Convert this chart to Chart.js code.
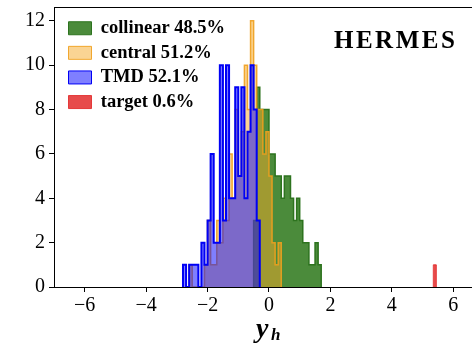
<!DOCTYPE html>
<html>
<head>
<meta charset="utf-8">
<script src="https://cdn.jsdelivr.net/npm/chart.js@4.4.1/dist/chart.umd.min.js"></script>
<style>
  html, body { margin: 0; padding: 0; background: #fff; }
  #chart { display: block; }
</style>
</head>
<body>
<canvas id="chart" width="472" height="347"></canvas>
<script>
// histogram bins, width 0.1, counts
const binWidth = 0.1;

const collinearStart = -0.5;
const collinearCounts = [3, 9, 8, 8, 8, 6, 6, 5, 5, 4, 5, 5, 4, 3, 4, 3, 2, 2, 1, 1, 2, 1];

const centralStart = -2.6;
const centralCounts = [1, 0, 0, 0, 0, 1, 3, 1, 1, 3, 2, 4, 3, 6, 4, 8, 5, 7, 10, 8, 12, 10, 8, 8, 6, 7, 5, 2, 1, 2];

const tmdStart = -2.8;
const tmdCounts = [1, 0, 1, 1, 1, 0, 2, 1, 3, 6, 2, 2, 10, 3, 10, 4, 4, 9, 5, 9, 4, 7, 10, 8, 3];

const targetStart = 5.35;
const targetCounts = [1];

const seriesLabels = ['collinear 48.5%', 'central 51.2%', 'TMD 52.1%', 'target 0.6%'];
const xTicks = [-6, -4, -2, 0, 2, 4, 6];
const yTicks = [0, 2, 4, 6, 8, 10, 12];

const serif = '"Liberation Serif", "DejaVu Serif", serif';

// turn bin counts into step points (left edges + closing edge)
function histPoints(start, counts) {
    const pts = [{ x: start, y: 0 }];
    counts.forEach((c, i) => {
        pts.push({ x: Math.round((start + i * binWidth) * 1000) / 1000, y: c });
    });
    pts.push({ x: Math.round((start + counts.length * binWidth) * 1000) / 1000, y: 0 });
    return pts;
}

function histSet(label, start, counts, fillColor, lineColor, lineWidth, order) {
    return {
        label: label,
        data: histPoints(start, counts),
        stepped: 'before',
        fill: 'origin',
        backgroundColor: fillColor,
        borderColor: lineColor,
        borderWidth: lineWidth,
        pointRadius: 0,
        order: order
    };
}

const frameAndText = {
    id: 'frameAndText',
    afterLayout(chart) {
        // vertical legends get top = 0, so place the block by hand
        chart.legend.left = chart.chartArea.left + 8.4;
        chart.legend.top = 12.9;
    },
    afterDraw(chart) {
        const ctx = chart.ctx;
        const a = chart.chartArea;
        ctx.save();
        ctx.strokeStyle = '#000';
        ctx.lineWidth = 1;
        ctx.beginPath();
        ctx.moveTo(a.left, a.top + 0.5);
        ctx.lineTo(a.right, a.top + 0.5);
        ctx.stroke();

        ctx.fillStyle = '#000';
        ctx.textBaseline = 'alphabetic';
        ctx.textAlign = 'left';
        ctx.font = 'bold 25px ' + serif;
        ctx.letterSpacing = '2.5px';
        ctx.fillText('HERMES', 334, 48);
        ctx.letterSpacing = '0px';

        ctx.font = 'italic bold 28px ' + serif;
        ctx.fillText('y', 256, 337);
        ctx.font = 'italic bold 17px ' + serif;
        ctx.fillText('h', 271, 340);
        ctx.restore();
    }
};

const ctx = document.getElementById('chart').getContext('2d');

new Chart(ctx, {
    type: 'line',
    data: {
        datasets: [
            histSet(seriesLabels[0], collinearStart, collinearCounts, 'rgba(30,110,10,0.8)', 'rgb(45,115,30)', 1.5, 3),
            histSet(seriesLabels[1], centralStart, centralCounts, 'rgba(245,170,40,0.5)', 'rgba(240,160,30,0.9)', 1.5, 2),
            histSet(seriesLabels[2], tmdStart, tmdCounts, 'rgba(0,0,255,0.5)', 'rgb(0,0,245)', 2, 1),
            histSet(seriesLabels[3], targetStart, targetCounts, 'rgba(225,30,30,0.8)', 'rgba(225,30,30,0.8)', 1, 0)
        ]
    },
    options: {
        responsive: false,
        animation: false,
        layout: { padding: { top: 7, right: 0, bottom: 0, left: 0 } },
        scales: {
            x: {
                type: 'linear',
                min: -7,
                max: 6.61,
                afterBuildTicks: scale => { scale.ticks = xTicks.map(v => ({ value: v })); },
                afterFit: scale => {
                    scale.height = 60;
                    scale.paddingLeft = 0;
                    scale.paddingRight = 0;
                },
                grid: { drawOnChartArea: false, drawTicks: true, tickLength: 5, color: '#000' },
                border: { color: '#000', width: 1 },
                ticks: {
                    color: '#000',
                    padding: 2,
                    maxRotation: 0,
                    font: { family: serif, size: 20 },
                    callback: v => v < 0 ? '\u2212' + Math.abs(v) : String(v)
                }
            },
            y: {
                type: 'linear',
                min: 0,
                max: 12.62,
                afterBuildTicks: scale => { scale.ticks = yTicks.map(v => ({ value: v })); },
                afterFit: scale => {
                    scale.width = 54;
                    scale.paddingTop = 0;
                    scale.paddingBottom = 0;
                },
                grid: { drawOnChartArea: false, drawTicks: true, tickLength: 5, color: '#000' },
                border: { color: '#000', width: 1 },
                ticks: {
                    color: '#000',
                    padding: 4,
                    font: { family: serif, size: 20 }
                }
            }
        },
        plugins: {
            tooltip: { enabled: false },
            legend: {
                position: 'chartArea',
                align: 'start',
                labels: {
                    color: '#000',
                    boxWidth: 23,
                    boxHeight: 13,
                    padding: 6.1,
                    font: { family: serif, size: 18.5, weight: 'bold' },
                    sort: (a, b) => a.datasetIndex - b.datasetIndex,
                    generateLabels: chart => {
                        const items = Chart.defaults.plugins.legend.labels.generateLabels(chart);
                        items.forEach(it => { it.lineWidth = 1; });
                        return items;
                    }
                }
            }
        }
    },
    plugins: [frameAndText]
});
</script>
</body>
</html>
